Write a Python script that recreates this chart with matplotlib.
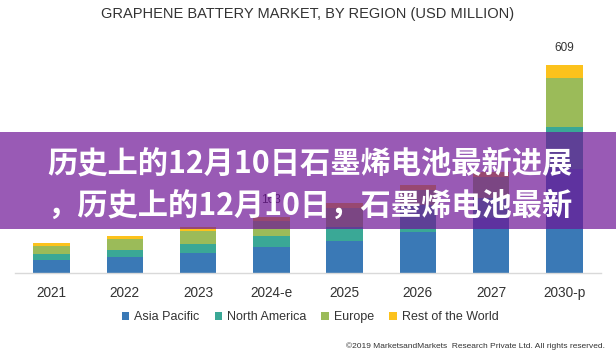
import matplotlib
matplotlib.use("Agg")
import matplotlib.pyplot as plt
from matplotlib.patches import Rectangle
import numpy as np

years = ["2021", "2022", "2023", "2024-e", "2025", "2026", "2027", "2030-p"]
asia_pacific = [38, 46, 57, 74, 93, 120, 160, 303]
north_america = [16, 21, 28, 33, 42, 78, 60, 126]
europe = [25, 31, 37, 45, 54, 45, 62, 142]
rest_of_world = [8, 9, 11, 11, 14, 14, 14, 38]
series_names = ["Asia Pacific", "North America", "Europe", "Rest of the World"]
labelled = {"2024-e": 163, "2030-p": 609}

title = "GRAPHENE BATTERY MARKET, BY REGION (USD MILLION)"
banner_lines = ["历史上的12月10日石墨烯电池最新进展", "，历史上的12月10日，石墨烯电池最新"]
credit = "©2019 MarketsandMarkets  Research Private Ltd. All rights reserved."

colors = ["#3a79b6", "#3aa896", "#9bbb59", "#fcc21c"]

W, H = 616, 363
fig = plt.figure(figsize=(W / 100, H / 100), dpi=100)
fig.patch.set_facecolor("white")

ax_left, ax_right = 15 / W, 601 / W
base_px = 272.5
units_per_px = 2.94
ymax = 700
ax_h = ymax / units_per_px
ax = fig.add_axes([ax_left, 1 - base_px / H, ax_right - ax_left, ax_h / H])

x = np.arange(len(years))
bottom = np.zeros(len(years))
for vals, c, name in zip([asia_pacific, north_america, europe, rest_of_world], colors, series_names):
    ax.bar(x, vals, width=0.5, bottom=bottom, color=c, label=name, zorder=2)
    bottom += np.array(vals)

for i, y in enumerate(years):
    if y in labelled:
        ax.text(i, bottom[i] + 32, str(labelled[y]), ha="center", va="bottom",
                fontsize=8.5, color="#333333", family="Liberation Sans")

ax.set_xlim(-0.5, 7.5)
ax.set_ylim(0, ymax)
for s in ["top", "right", "left"]:
    ax.spines[s].set_visible(False)
ax.spines["bottom"].set_color("#d9d9d9")
ax.spines["bottom"].set_linewidth(1.0)
ax.set_yticks([])
ax.set_xticks(x)
ax.set_xticklabels(years, fontsize=9.8, color="#333333", family="Liberation Sans")
ax.tick_params(axis="x", length=0, pad=10)
ax.patch.set_alpha(0)

fig.text(0.5, 1 - 14 / H, title, ha="center", va="center", fontsize=10.5,
         color="#333333", family="Liberation Sans")

handles, labels = ax.get_legend_handles_labels()
leg = fig.legend(handles, labels, loc="center", bbox_to_anchor=(310 / W, 1 - 317 / H),
                 ncol=4, frameon=False, handlelength=0.6, handleheight=0.6,
                 handletextpad=0.4, columnspacing=1.2, prop={"family": "Liberation Sans", "size": 9})
for t in leg.get_texts():
    t.set_color("#333333")

fig.text(605 / W, 1 - 346 / H, credit, ha="right", va="center", fontsize=6,
         color="#333333", family="Liberation Sans")

# overlay banner
banner = Rectangle((0, 1 - 229.3 / H), 1, (229.3 - 131.7) / H, transform=fig.transFigure,
                   facecolor=(110 / 255, 20 / 255, 150 / 255), alpha=0.7, edgecolor="none", zorder=10)
fig.patches.append(banner)
for line, yc in zip(banner_lines, [163, 206]):
    fig.text(47 / W, 1 - yc / H, line, ha="left", va="center", fontsize=21.8, fontweight="bold",
             color="white", family=["Noto Sans CJK SC", "DejaVu Sans"], zorder=11)

fig.savefig("out.png", dpi=100)
